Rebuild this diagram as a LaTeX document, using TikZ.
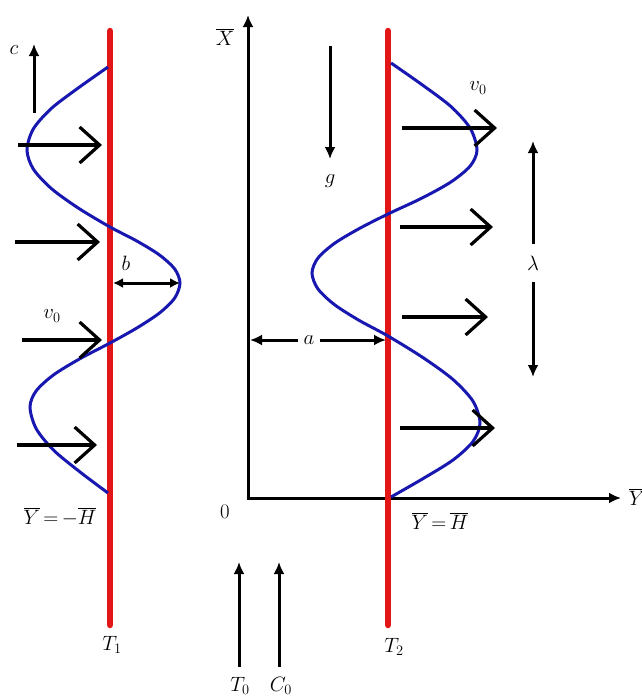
\documentclass[tikz,border=0pt]{standalone}
\usetikzlibrary{arrows.meta}
\definecolor{wallred}{RGB}{226,22,22}
\definecolor{waveblue}{RGB}{24,24,176}
\newcommand\mylblfont{\fontsize{19.5}{22}\selectfont\thickmuskip=3mu\relax}
\begin{document}
\begin{tikzpicture}[x=1pt,y=-1pt,
  wall/.style={wallred,line width=6.5pt},
  wave/.style={waveblue,line width=3pt},
  flowarrow/.style={line width=3.2pt,-{Straight Barb[length=20pt,width=36pt,line width=3.2pt]}},
  thinarrow/.style={line width=3pt,-{Latex[length=12pt,width=11pt]}},
  axisarrow/.style={line width=3pt,-{Latex[length=12pt,width=11pt]}},
  lbl/.style={inner sep=1pt,font=\mylblfont}]
\useasboundingbox (0,0) rectangle (641,696);

% ---------- left wall ----------
\coordinate (w1t) at (110,31);
\coordinate (w1b) at (110,625);
\draw[wall,line cap=round] (w1t) -- (w1b);
\node[lbl] (T1) at (112,645) {$T_1$};

\draw[wave] plot[smooth,tension=0.5] coordinates {
 (108,67) (78.2,88) (51.3,108.5) (33.3,129) (27,150)
 (33.3,169) (51.3,188.5) (78.2,208) (110,227)
 (136.8,241) (159.5,255) (174.7,269) (180,283)
 (174.7,298) (159.5,313) (136.8,328) (110,343)
 (79.4,359) (53.4,375) (36.1,391) (30,407)
 (36.1,428.5) (53.4,450) (79.4,471.5) (108,493)};

% flow arrows left
\foreach \i/\ya/\xa/\xb in {1/145/18/102, 2/242/15/100, 3/340/22/102, 4/445/17/97}{
  \coordinate (la\i s) at (\xa,\ya);
  \coordinate (la\i e) at (\xb,\ya);
  \draw[flowarrow] (la\i s) -- (la\i e);
}

% c arrow
\coordinate (cs) at (34,113);
\coordinate (ce) at (34,44);
\draw[thinarrow] (cs) -- (ce);
\node[lbl] (c) at (14,50) {$c$};

% b dimension
\coordinate (bl) at (113,283);
\coordinate (br) at (180,283);
\draw[line width=3pt,{Latex[length=10pt,width=10pt]}-{Latex[length=10pt,width=10pt]}] (bl) -- (br);
\node[lbl] (b) at (126,263) {$b$};

\node[lbl] (v0l) at (52,316) {$v_0$};
\node[lbl] (Hm) at (60,517) {$\overline{Y}=-\overline{H}$};

% ---------- axes ----------
\coordinate (O) at (248,498);
\coordinate (Xe) at (248,15);
\coordinate (Ye) at (621,498);
\draw[axisarrow] ([yshift=1.5pt]O) -- (Xe);
\draw[axisarrow] ([xshift=-1.5pt]O) -- (Ye);
\node[lbl] (Xl) at (225,37) {$\overline{X}$};
\node[lbl] (Yl) at (637,497) {$\overline{Y}$};
\node[lbl] (zero) at (225,512) {$0$};

% ---------- right wall ----------
\coordinate (w2t) at (388,31);
\coordinate (w2b) at (388,625);
\draw[wall,line cap=round] (w2t) -- (w2b);
\node[lbl] (T2) at (394,647) {$T_2$};

\draw[wave] plot[smooth,tension=0.5] coordinates {
 (391,63) (422.1,84.75) (450.9,106.5) (470.2,128.25) (477,150)
 (470.2,166) (450.9,182) (422.1,198) (388,214)
 (358.9,228.75) (334.3,243.5) (317.8,258.25) (312,273)
 (317.8,288.75) (334.3,304.5) (358.9,320.25) (388,336)
 (423.2,357.75) (453,379.5) (473,401.25) (480,423)
 (473,441.5) (453,460) (423.2,478.5) (391,497)};

% flow arrows right
\foreach \i/\ya/\xa/\xb in {1/128/402/497, 2/227/400/493, 3/317/402/488, 4/428/400/495}{
  \coordinate (ra\i s) at (\xa,\ya);
  \coordinate (ra\i e) at (\xb,\ya);
  \draw[flowarrow] (ra\i s) -- (ra\i e);
}

\node[lbl] (v0r) at (478,88) {$v_0$};

% g arrow
\coordinate (gs) at (330,46);
\coordinate (ge) at (330,159);
\draw[thinarrow] (gs) -- (ge);
\node[lbl] (g) at (330,181) {$g$};

% lambda
\node[lbl,inner ysep=12pt] (lam) at (533,263) {$\lambda$};
\coordinate (lamt) at (533,141);
\coordinate (lamb) at (533,377);
\draw[thinarrow] (lam) -- (lamt);
\draw[thinarrow] (lam) -- (lamb);

% a dimension
\node[lbl,inner xsep=5pt] (a) at (309,340) {$a$};
\coordinate (al) at (250,340);
\coordinate (ar) at (386,340);
\draw[thinarrow] (a) -- (al);
\draw[thinarrow] (a) -- (ar);

\node[lbl] (Hp) at (440,521) {$\overline{Y}=\overline{H}$};

% T0, C0 arrows
\coordinate (t0s) at (239,667);
\coordinate (t0e) at (239,562);
\coordinate (c0s) at (279,667);
\coordinate (c0e) at (279,562);
\draw[thinarrow] (t0s) -- (t0e);
\draw[thinarrow] (c0s) -- (c0e);
\node[lbl] (T0) at (240,686) {$T_0$};
\node[lbl] (C0) at (281,686) {$C_0$};
\end{tikzpicture}
\end{document}
